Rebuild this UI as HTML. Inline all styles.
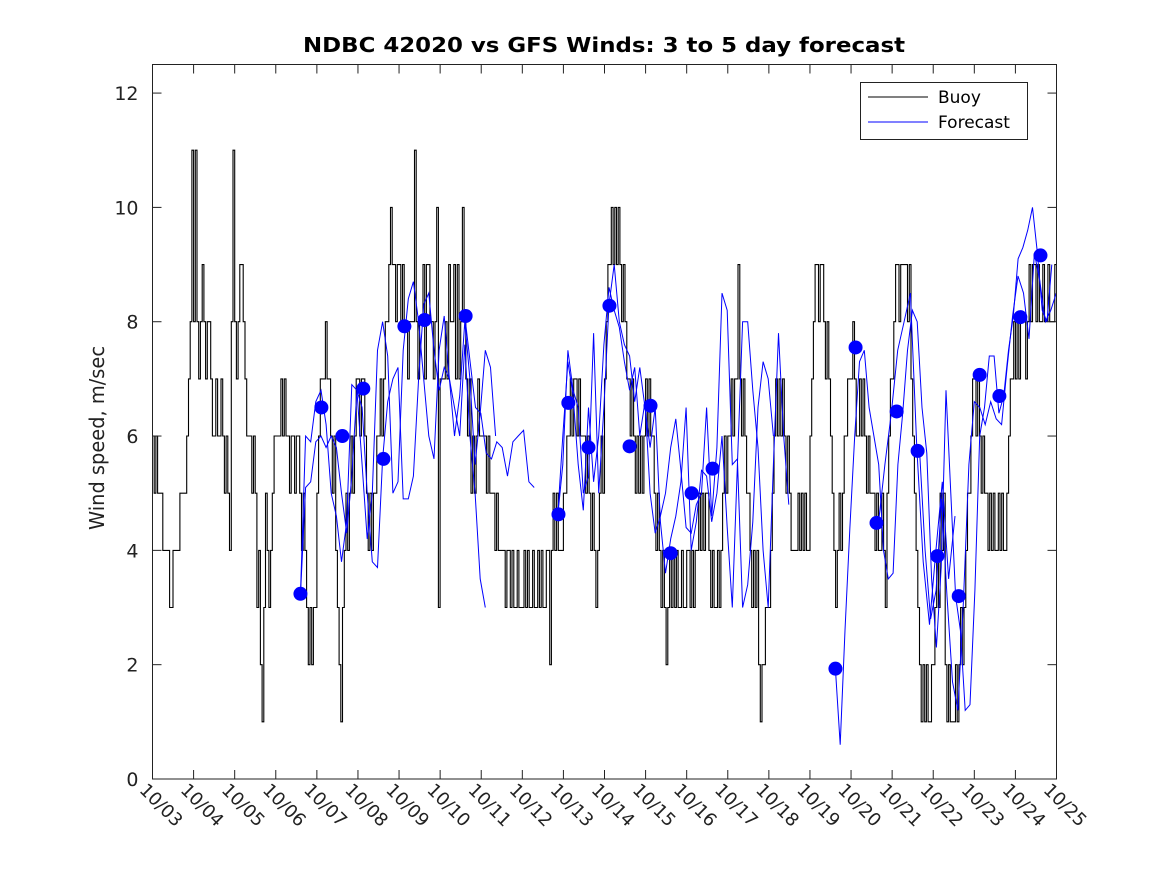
<!DOCTYPE html>
<html><head><meta charset="utf-8"><style>
body{margin:0;background:#fff}
svg{display:block;font-family:"DejaVu Sans","Liberation Sans",sans-serif}
</style></head><body>
<svg id="chart" width="1167" height="875" viewBox="0 0 1167 875">
<rect x="0" y="0" width="1167" height="875" fill="#fff"/>
<text x="604" y="52" text-anchor="middle" font-size="20" font-weight="bold" fill="#000" textLength="602" lengthAdjust="spacingAndGlyphs">NDBC 42020 vs GFS Winds: 3 to 5 day forecast</text>
<text transform="translate(104,438) rotate(-90)" text-anchor="middle" font-size="20" fill="#222" textLength="184" lengthAdjust="spacingAndGlyphs">Wind speed, m/sec</text>
<g id="plot"></g>
<rect x="152.5" y="64.5" width="904" height="714.5" fill="none" stroke="#222" stroke-width="1"/>
<g id="ticks"></g>
<g>
<rect x="860.5" y="82.5" width="167" height="57" fill="#fff" stroke="#222"/>
<line x1="868" y1="97" x2="928" y2="97" stroke="#000" stroke-width="1"/>
<text x="938" y="103" font-size="17" fill="#000">Buoy</text>
<line x1="868" y1="122" x2="928" y2="122" stroke="#0000ff" stroke-width="1"/>
<text x="938" y="128" font-size="17" fill="#000">Forecast</text>
</g>
</svg>
<script>
const xLabels=["10/03","10/04","10/05","10/06","10/07","10/08","10/09","10/10","10/11","10/12","10/13","10/14","10/15","10/16","10/17","10/18","10/19","10/20","10/21","10/22","10/23","10/24","10/25"];
const yTicks=[0,2,4,6,8,10,12];
// hourly buoy observations, one array per day
const buoyDays=[
[6,5,6,5,5,5,4,4,4,4,3,3,4,4,4,4,5,5,5,5,6,7,8,11],
[8,11,8,7,8,9,8,7,8,8,7,6,6,7,6,6,7,6,5,6,5,4,8,11],
[8,7,8,9,9,8,7,6,6,6,5,6,5,3,4,2,1,3,5,4,3,4,5,6],
[6,6,6,7,6,7,6,6,5,6,6,5,6,6,5,4,5,4,3,2,3,2,3,3],
[5,6,7,7,7,8,7,7,6,5,6,4,3,2,1,3,4,5,4,5,6,5,6,7],
[7,6,7,7,6,5,4,5,4,5,5,6,6,7,6,7,8,8,9,10,9,9,8,9],
[9,8,9,8,8,7,8,8,8,11,8,7,8,8,9,7,9,9,8,8,7,8,10,3],
[7,7,7,8,7,9,8,8,9,7,9,7,8,10,8,7,6,7,5,6,5,6,7,6],
[6,6,6,5,6,5,5,5,4,5,4,4,4,4,3,4,4,3,4,3,3,4,3,3],
[3,4,3,4,3,3,4,3,3,4,3,4,3,3,4,4,2,4,5,4,5,4,4,4],
[5,5,6,6,7,6,7,7,6,7,6,6,6,5,6,5,4,5,4,3,4,5,6,5],
[7,8,9,9,10,9,10,9,10,9,8,9,8,7,7,6,7,6,5,6,5,6,5,6],
[7,6,7,6,6,5,4,5,4,3,4,3,2,3,4,3,4,3,4,3,3,4,3,3],
[4,4,3,4,3,4,4,5,4,5,4,5,5,4,3,4,3,3,4,3,4,5,6,5],
[6,6,7,6,7,7,9,7,6,7,6,5,5,4,3,4,3,4,2,1,2,2,3,3],
[3,4,5,6,7,6,7,6,7,6,5,6,5,4,4,4,4,5,4,5,4,5,4,4],
[6,7,8,9,9,8,9,9,8,7,8,7,6,5,4,3,4,5,4,5,6,6,7,7],
[7,8,7,6,6,7,6,7,6,5,6,5,5,5,4,5,4,4,5,4,3,5,6,7],
[7,8,9,9,8,9,9,9,9,8,9,7,6,5,4,3,2,1,2,1,2,1,1,2],
[2,3,4,3,5,4,5,2,1,2,1,1,1,2,1,2,3,2,3,4,5,5,6,7],
[7,6,7,6,5,6,5,5,4,5,4,5,4,4,5,4,5,4,4,5,6,7,7,8],
[7,8,7,8,8,8,7,8,9,8,9,9,8,9,8,8,9,8,8,9,8,8,8,9]
];
const fcStarts=[3.6,7.6,3.6,9.86,9.86,16.62,17.67,18.67];
const fcSteps=[0.125,0.13,0.125,0.125,0.125,0.117,0.155,0.133];
const fc1=[3.2,6.0,5.9,6.6,6.8,6.2,5.0,4.6,3.8,4.5,6.9,6.8,5.5,4.2,5.0,7.5,8.0,7.4,5.0,5.2,7.5,8.4,8.7,8.0,7.0,6.0,5.6,7.5,8.1,7.0,6.5,6.0,7.6,6.0,5.0,3.5,3.0];
const fc2=[8.1,7.3,6.5,6.4,5.7,5.6,5.9,5.8,5.3,5.9,6.0,6.1,5.2,5.1];
const fc3=[3.2,5.1,5.2,5.9,6.0,5.8,6.0,5.8,5.0,4.3,5.3,6.8,6.5,5.0,3.8,3.7,5.6,6.6,7.0,7.2,4.9,4.9,5.3,7.0,8.3,8.5,7.5,6.8,7.2,7.0,6.0,6.7,8.0,7.0,5.5,6.4,7.5,7.2,6.0];
const fc4=[4.6,5.5,7.5,6.8,6.5,5.0,5.3,7.8,5.0,6.5,8.3,9.0,8.0,7.6,7.4,6.6,7.2,6.5,5.8,6.5,4.5,3.6,4.2,4.6,5.2,6.5,4.0,4.5,5.4,5.3,4.5,5.0,6.0,4.4,3.0,5.5,8.0,8.0,6.8,5.8,4.0,3.0,5.5,7.8,6.0,4.8];
const fc5=[4.6,6.0,7.3,6.7,5.5,4.7,6.5,5.2,6.0,7.6,8.6,8.2,7.9,7.3,6.8,7.2,6.0,6.6,5.0,4.3,4.6,5.0,5.8,6.3,5.4,4.4,4.3,4.8,5.0,6.5,4.6,5.8,8.5,8.2,5.5,5.6,3.0,3.4,4.5,6.5,7.3,7.0,6.0];
const fc6=[1.93,0.6,2.6,4.4,6.0,7.3,7.5,6.5,6.0,5.5,4.0,3.5,3.6,5.5,6.4,7.5,8.2,8.0,6.5,5.7,3.5,2.3,3.7,6.8,5.0,3.2,2.6,1.2,1.3,3.3,6.0,6.5,7.4,7.4,6.4,6.7,7.5,8.1,9.1,9.3,9.6,10.0,9.2,8.2,8.0,9.0];
const fc7=[4.5,5.5,6.4,7.5,8.0,8.5,5.8,3.8,2.7,4.0,5.2,3.5,4.6];
const fc8=[5.7,4.0,2.8,3.3,4.9,3.2,1.7,1.2,3.1,5.5,6.6,6.5,6.2,6.6,6.3,6.2,7.2,8.1,8.8,8.5,7.7,9.2,8.7,8.0,8.2,8.5];
const dotDays=[3.60,4.11,4.62,5.13,5.62,6.13,6.62,7.62,9.88,10.12,10.61,11.12,11.61,12.12,12.61,13.12,13.63,16.62,17.11,17.62,18.11,18.62,19.10,19.62,20.13,20.61,21.12,21.61];
const dotVals=[3.24,6.5,6.0,6.83,5.6,7.92,8.03,8.1,4.63,6.58,5.8,8.28,5.82,6.53,3.95,5.0,5.43,1.93,7.55,4.48,6.43,5.74,3.9,3.2,7.07,6.7,8.08,9.16];

const X0=152.5,X1=1056.5,Y0=779,Y1=64.5;
const xs=d=>X0+(X1-X0)*d/22;
const ys=v=>Y0-(Y0-Y1)*v/12.5;
const NS="http://www.w3.org/2000/svg";
const plot=document.getElementById('plot'),tk=document.getElementById('ticks');
function mk(tag,attrs,parent){const e=document.createElementNS(NS,tag);for(const k in attrs)e.setAttribute(k,attrs[k]);parent.appendChild(e);return e;}

let d='';
buoyDays.forEach((day,di)=>{
  day.forEach((v,h)=>{
    const xa=xs(di+h/day.length),xb=xs(di+(h+1)/day.length),y=ys(v);
    d+=(d?'L':'M')+xa.toFixed(1)+','+y.toFixed(1)+'L'+xb.toFixed(1)+','+y.toFixed(1);
  });
});
const bl=mk('path',{d:d,fill:'none',stroke:'#000','stroke-width':1.1},plot);



const fcs=[fc1,fc2,fc3,fc4,fc5,fc6,fc7,fc8];
fcs.forEach((s,k)=>{
  const pts=s.map((v,i)=>xs(fcStarts[k]+i*fcSteps[k]).toFixed(1)+','+ys(v).toFixed(1)).join(' ');
  const p=mk('polyline',{points:pts,fill:'none',stroke:'#0000ff','stroke-width':1},plot);
  
  
});
dotDays.forEach((t,i)=>{
  const c=mk('circle',{cx:xs(t),cy:ys(dotVals[i]),r:7,fill:'#0000ff'},plot);
  
  
});

yTicks.forEach(v=>{
  const y=ys(v);
  const a=mk('line',{x1:X0,y1:y,x2:X0+9,y2:y,stroke:'#222'},tk);
  
  
  const b=mk('line',{x1:X1-9,y1:y,x2:X1,y2:y,stroke:'#222'},tk);
  
  
  const t=mk('text',{x:X0-14,y:y+7,'text-anchor':'end','font-size':19,fill:'#222'},tk);
  t.textContent=v;
  
  
});
xLabels.forEach((lab,i)=>{
  const x=xs(i);
  const a=mk('line',{x1:x,y1:Y0,x2:x,y2:Y0-9,stroke:'#222'},tk);
  
  
  const b=mk('line',{x1:x,y1:Y1,x2:x,y2:Y1+9,stroke:'#222'},tk);
  
  
  const t=mk('text',{transform:'translate('+(x-14)+','+(Y0+12)+') rotate(45)','font-size':18,fill:'#222'},tk);
  t.textContent=lab;
  
  
});
</script>
</body></html>
